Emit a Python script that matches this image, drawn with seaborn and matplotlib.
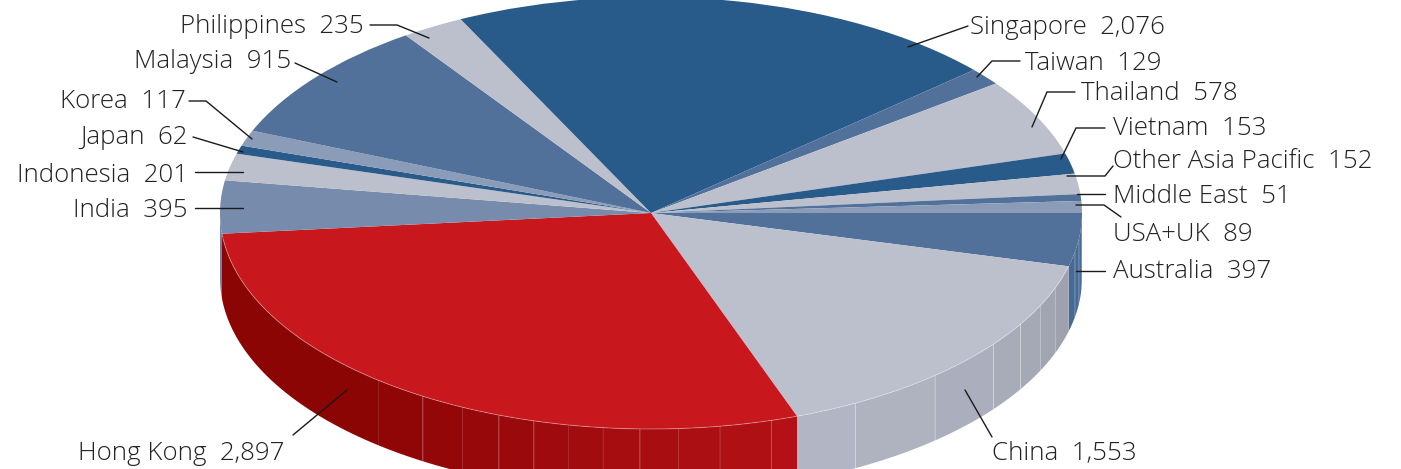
import numpy as np
import matplotlib
matplotlib.use("Agg")
import matplotlib.pyplot as plt
from matplotlib.transforms import Affine2D
import seaborn as sns

# Clockwise from three o'clock
markets = ["Australia", "China", "Hong Kong", "India", "Indonesia", "Japan", "Korea", "Malaysia",
           "Philippines", "Singapore", "Taiwan", "Thailand", "Vietnam", "Other Asia Pacific",
           "Middle East", "USA+UK"]
amounts = [397, 1553, 2897, 395, 201, 62, 117, 915, 235, 2076, 129, 578, 153, 152, 51, 89]

NAVY, SLATE, STEEL, MIST, PALE, RED = "#285a8a", "#51719b", "#778cad", "#8a9cb8", "#bcc0cd", "#c8181e"
face_colors = [SLATE, PALE, RED, STEEL, PALE, NAVY, MIST, SLATE,
               PALE, NAVY, SLATE, PALE, NAVY, PALE, SLATE, MIST]

# Side wall shading: start colour, end colour, facet seams in degrees below the rim, seam opacity
wall_styles = {
    "Australia": ("#4a6d98", "#466a96", [3.5, 7, 10.5], 0.12),
    "China": ("#9ea2ae", "#b2b6c4", [20.4, 25.5, 31, 37.4, 48.8, 61.7], 0.28),
    "Hong Kong": ("#b31116", "#8c0505", [73.8, 80.8, 86.4, 91.5, 96.4, 101.1, 105.8, 110.7, 116, 122, 129.3], 0.1),
    "India": ("#6d83a6", "#6d83a6", [], 0.0),
}

# Label layout in canvas pixels: anchor x, baseline y, alignment, leader polyline
label_layout = {
    "Singapore": (970, 34, "left", [(968, 26), (908, 47)]),
    "Taiwan": (1025, 70, "left", [(1020, 61), (992, 61), (977, 77)]),
    "Thailand": (1081, 100, "left", [(1075, 92), (1047, 92), (1032, 127)]),
    "Vietnam": (1113, 135, "left", [(1105, 128), (1076, 128), (1061, 159)]),
    "Other Asia Pacific": (1113, 168, "left", [(1113, 166), (1105, 176), (1067, 176)]),
    "Middle East": (1113, 203, "left", [(1105, 194), (1077, 194)]),
    "USA+UK": (1113, 241, "left", [(1076, 205), (1104, 205), (1121, 217)]),
    "Australia": (1113, 278, "left", [(1105, 271), (1076, 271)]),
    "China": (992, 460, "left", [(965, 390), (992, 437)]),
    "Hong Kong": (285, 460, "right", [(347, 390), (293, 435)]),
    "India": (188, 217, "right", [(195, 208), (243, 208)]),
    "Indonesia": (188, 182, "right", [(195, 172), (243, 172)]),
    "Japan": (188, 144, "right", [(193, 137), (243, 152)]),
    "Korea": (186, 108, "right", [(189, 101), (206, 101), (252, 139)]),
    "Malaysia": (291, 68, "right", [(295, 63), (337, 82)]),
    "Philippines": (364, 33, "right", [(370, 25), (397, 25), (429, 38)]),
}

WIDTH, HEIGHT = 1401, 469
CENTER_X, CENTER_Y = 651, 213
RADIUS_X, RADIUS_Y = 431, 216
DEPTH = 65 / RADIUS_Y

sns.set_theme(style="white")
plt.rcParams["font.family"] = ["Open Sans", "DejaVu Sans"]

fig = plt.figure(figsize=(WIDTH / 100, HEIGHT / 100), dpi=100)
ax = fig.add_axes([0, 0, 1, 1])

# Extruded rim, built facet by facet along the front half of the ellipse
edges = np.cumsum([0] + amounts) / sum(amounts) * 360
for i, name in enumerate(markets):
    if name not in wall_styles:
        continue
    start, stop = edges[i], min(edges[i + 1], 180)
    c0, c1, seams, seam_alpha = wall_styles[name]
    breaks = [start] + [s for s in seams if start < s < stop] + [stop]
    shades = sns.blend_palette([c0, c1], max(len(breaks) - 1, 1))
    for a0, a1, shade in zip(breaks[:-1], breaks[1:], shades):
        t = np.radians(np.linspace(a0, a1, 40))
        xs, ys = np.cos(t), -np.sin(t)
        ax.fill(np.r_[xs, xs[::-1]], np.r_[ys, ys[::-1] - DEPTH], color=shade, lw=0)
        if a0 != start:
            ax.plot([xs[0], xs[0]], [ys[0], ys[0] - DEPTH], color="white", lw=0.7, alpha=seam_alpha)

# Top face
ax.pie(amounts, colors=face_colors, startangle=0, counterclock=False, radius=1,
       wedgeprops={"linewidth": 0})
ax.set_aspect("auto")
ax.set_xlim(-CENTER_X / RADIUS_X, (WIDTH - CENTER_X) / RADIUS_X)
ax.set_ylim(-(HEIGHT - CENTER_Y) / RADIUS_Y, CENTER_Y / RADIUS_Y)
ax.axis("off")

# Light highlight where the top face meets the wall
t = np.radians(np.linspace(14.3, 174.5, 300))
ax.plot(np.cos(t), -np.sin(t), color="white", lw=0.7, alpha=0.3)

# Labels and leaders sit in canvas pixels, y running downward
canvas = Affine2D().scale(1, -1).translate(0, HEIGHT)
for name, amount in zip(markets, amounts):
    x, y, align, leader = label_layout[name]
    ax.text(x, y, f"{name}  {amount:,}", transform=canvas, ha=align, va="baseline",
            fontsize=18.6, fontweight="light", color="#222222", clip_on=False)
    lx, ly = zip(*leader)
    ax.plot(lx, ly, transform=canvas, color="#1a1a1a", lw=1.0, clip_on=False,
            solid_joinstyle="miter")

fig.savefig("out.png", dpi=100, facecolor="white")
